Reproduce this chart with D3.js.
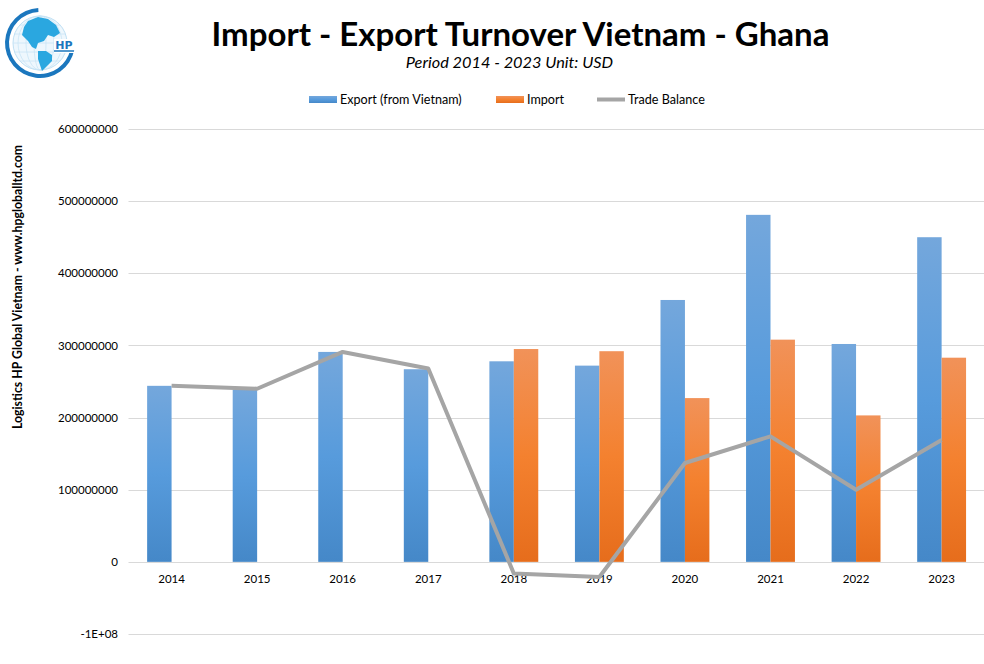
<!DOCTYPE html>
<html><head><meta charset="utf-8">
<script src="https://cdn.jsdelivr.net/npm/d3@7"></script>
<style>body{margin:0;background:#fff}svg{display:block}</style>
</head><body>
<script>
const years = ["2014","2015","2016","2017","2018","2019","2020","2021","2022","2023"];
const exportVals = [244e6, 239e6, 291e6, 267e6, 278e6, 272e6, 363e6, 481e6, 302e6, 450e6];
const importVals = [0, 0, 0, 0, 295e6, 292e6, 227e6, 308e6, 203e6, 283e6];
const balanceVals = [244e6, 240e6, 291e6, 268e6, -16e6, -21e6, 137e6, 174e6, 100e6, 169e6];
const yTicks = [-1e8, 0, 1e8, 2e8, 3e8, 4e8, 5e8, 6e8];
const yTickLabels = ["-1E+08","0","100000000","200000000","300000000","400000000","500000000","600000000"];
const seriesNames = ["Export (from Vietnam)", "Import", "Trade Balance"];

const W = 984, H = 664;
const font = "Lato, 'Open Sans', sans-serif";
const svg = d3.select("body").append("svg").attr("width", W).attr("height", H);

const defs = svg.append("defs");
function grad(id, c1, c2, c3) {
  const g = defs.append("linearGradient").attr("id", id).attr("x1",0).attr("y1",0).attr("x2",0).attr("y2",1);
  g.append("stop").attr("offset","0%").attr("stop-color",c1);
  g.append("stop").attr("offset","50%").attr("stop-color",c2);
  g.append("stop").attr("offset","100%").attr("stop-color",c3);
}
grad("gBlue", "#74A7DC", "#579BDC", "#4588C8");
grad("gOrange", "#F19259", "#F4812F", "#E66D1C");

const x = d3.scaleBand().domain(years).range([128.8, 984.4]).paddingInner(0).paddingOuter(0);
const y = d3.scaleLinear().domain([-1e8, 6e8]).range([634, 129]);
const sub = d3.scaleBand().domain(["e","i"]).range([0, x.bandwidth()]).paddingInner(0).paddingOuter(0.75);

// gridlines
svg.append("g").selectAll("line").data(yTicks).join("line")
  .attr("x1", 128.5).attr("x2", 984)
  .attr("y1", d => Math.round(y(d)) + 0.5).attr("y2", d => Math.round(y(d)) + 0.5)
  .attr("stroke", "#D9D9D9").attr("stroke-width", 1);

// y axis labels
const yAxis = d3.axisLeft(y).tickValues(yTicks).tickSize(0).tickPadding(0)
  .tickFormat(d => yTickLabels[yTicks.indexOf(d)]);
const ya = svg.append("g").attr("transform", "translate(118,0)").call(yAxis);
ya.select(".domain").remove();
ya.selectAll("text").attr("font-family", font).attr("font-size", 11.5).attr("fill", "#000");

// bars
const bars = svg.append("g");
bars.selectAll("rect.e").data(years).join("rect").attr("class","e")
  .attr("x", d => x(d) + sub("e")).attr("width", sub.bandwidth())
  .attr("y", (d,i) => y(exportVals[i])).attr("height", (d,i) => y(0) - y(exportVals[i]))
  .attr("fill", "url(#gBlue)");
bars.selectAll("rect.i").data(years).join("rect").attr("class","i")
  .attr("x", d => x(d) + sub("i")).attr("width", sub.bandwidth())
  .attr("y", (d,i) => y(importVals[i])).attr("height", (d,i) => y(0) - y(importVals[i]))
  .attr("fill", "url(#gOrange)");

// x axis labels
const xAxis = d3.axisBottom(x).tickSize(0).tickPadding(0);
const xa = svg.append("g").attr("transform", `translate(0,${y(0) + 13})`).call(xAxis);
xa.select(".domain").remove();
xa.selectAll("text").attr("font-family", font).attr("font-size", 11.5).attr("fill", "#000");

// balance line
const line = d3.line().x((d,i) => x(years[i]) + x.bandwidth()/2).y(d => y(d));
svg.append("path").datum(balanceVals).attr("d", line)
  .attr("fill", "none").attr("stroke", "#A5A5A5").attr("stroke-width", 4)
  .attr("stroke-linejoin", "round");

// title
svg.append("text").attr("x", 520.5).attr("y", 46).attr("text-anchor", "middle")
  .attr("font-family", font).attr("font-weight", "bold").attr("font-size", 33)
  .text("Import - Export Turnover Vietnam - Ghana");
svg.append("text").attr("x", 509.5).attr("y", 68).attr("text-anchor", "middle")
  .attr("font-family", font).attr("font-style", "italic").attr("font-size", 16.3)
  .text("Period 2014 - 2023 Unit: USD");

// legend
const lg = svg.append("g").attr("font-family", font).attr("font-size", 12.6);
const legendItems = [
  {name: seriesNames[0], x: 309, type: "rect", fill: "url(#gBlue)"},
  {name: seriesNames[1], x: 496, type: "rect", fill: "url(#gOrange)"},
  {name: seriesNames[2], x: 597, type: "line"}
];
legendItems.forEach(it => {
  if (it.type === "rect") {
    lg.append("rect").attr("x", it.x).attr("y", 96).attr("width", 28).attr("height", 7).attr("fill", it.fill);
  } else {
    lg.append("line").attr("x1", it.x).attr("x2", it.x + 28).attr("y1", 99.5).attr("y2", 99.5)
      .attr("stroke", "#A5A5A5").attr("stroke-width", 4);
  }
  lg.append("text").attr("x", it.x + 31).attr("y", 104).text(it.name);
});

// y axis title
svg.append("text").attr("transform", "translate(22,287) rotate(-90)")
  .attr("text-anchor", "middle").attr("font-family", font).attr("font-weight", "bold")
  .attr("font-size", 12.3).text("Logistics HP Global Vietnam - www.hpgloballtd.com");

// logo
const logo = svg.append("g").attr("transform", "translate(40,43)");
logo.append("circle").attr("r", 27).attr("fill", "#EEF7FD").attr("stroke", "#BFE0F4").attr("stroke-width", 1);
[-18, -9, 0, 9, 18].forEach(v => {
  logo.append("line").attr("x1", -Math.sqrt(27*27 - v*v)).attr("x2", Math.sqrt(27*27 - v*v))
    .attr("y1", v).attr("y2", v).attr("stroke", "#C9E4F5").attr("stroke-width", 0.8);
});
[6, 14, 22].forEach(v => {
  logo.append("ellipse").attr("rx", v).attr("ry", 27).attr("fill","none").attr("stroke","#C9E4F5").attr("stroke-width",0.8);
});
// North America
logo.append("path").attr("d", "M-12,-22 L-2,-26 L8,-24 L16,-18 L20,-10 L14,-6 L8,-8 L4,-2 L-2,0 L-4,6 L-8,4 L-12,-2 L-18,-8 L-16,-16 Z")
  .attr("fill", "#2AA7E0");
// South America
logo.append("path").attr("d", "M-2,8 L6,8 L12,12 L12,18 L6,24 L2,28 L0,22 L-2,16 Z")
  .attr("fill", "#2AA7E0");
const arc = d3.arc().innerRadius(31).outerRadius(35).startAngle(1.78).endAngle(2 * Math.PI - 0.05);
logo.append("path").attr("d", arc()).attr("fill", "#1B77BE");
// HP mark
logo.append("rect").attr("x", 14).attr("y", -4).attr("width", 20).attr("height", 14).attr("fill", "#fff");
logo.append("text").attr("x", 24).attr("y", 6).attr("text-anchor","middle").attr("font-family", "DejaVu Sans, sans-serif")
  .attr("font-size", 11).attr("font-weight","bold").attr("fill", "#1B77BE").text("HP");
logo.append("line").attr("x1", 14).attr("x2", 34).attr("y1", 8).attr("y2", 8).attr("stroke", "#1B77BE").attr("stroke-width", 1.5);
</script>
</body></html>
